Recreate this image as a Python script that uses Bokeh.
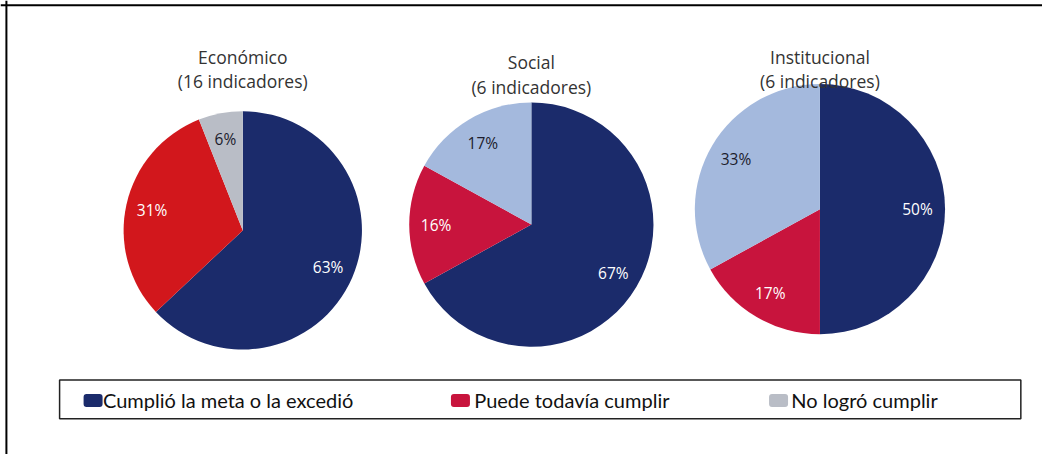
import math
from bokeh.plotting import figure
from bokeh.models import Range1d, Span
from bokeh.core.properties import value
from bokeh.embed import file_html
from bokeh.resources import INLINE

# ---- data ----
panels = ["Económico", "Social", "Institucional"]
indicator_counts = [16, 6, 6]
categories = ["Cumplió la meta o la excedió", "Puede todavía cumplir", "No logró cumplir"]
economico = [63, 31, 6]
social = [67, 16, 17]
institucional = [50, 17, 33]
series = [economico, social, institucional]

# ---- styles ----
NAVY = "#1b2b6b"
RED1 = "#d2171c"
CRIMSON = "#c8143d"
GRAY = "#b9bdc6"
LIGHTBLUE = "#a4b9dd"
pie_colors = [[NAVY, RED1, GRAY], [NAVY, CRIMSON, LIGHTBLUE], [NAVY, CRIMSON, LIGHTBLUE]]
label_colors = ["white", "white", "#1c1c2c"]
legend_colors = [NAVY, CRIMSON, GRAY]
TITLE_FONT = "Open Sans"
LEGEND_FONT = "Lato"

W, H = 1042, 454
SX, SY = W / 1058.0, H / 470.0


def X(px):
    return px * SX


def Y(py):
    return H - py * SY


p = figure(width=W, height=H, x_range=Range1d(0, W), y_range=Range1d(0, H),
           output_backend="svg", toolbar_location=None, min_border=0)
p.axis.visible = False
p.grid.visible = False
p.outline_line_color = None
p.background_fill_color = "white"
p.border_fill_color = "white"

# frame (top and left edges)
p.add_layout(Span(location=Y(5), dimension="width", line_color="black", line_width=2))
p.add_layout(Span(location=X(6), dimension="height", line_color="black", line_width=2))

# pie layout (reference pixel coords)
centers = [(246, 238), (539, 232), (832, 216)]
radii = [121, 124, 127]
title_y = [(58, 83), (64, 90), (59, 83)]

for k, vals in enumerate(series):
    cx, cy = X(centers[k][0]), Y(centers[k][1])
    r = radii[k] * SX
    total = float(sum(vals))
    cum = 0.0
    starts, ends, mids = [], [], []
    for v in vals:
        a0 = math.pi / 2 - 2 * math.pi * cum / total
        cum += v
        a1 = math.pi / 2 - 2 * math.pi * cum / total
        starts.append(a0)
        ends.append(a1)
        mids.append((a0 + a1) / 2)
    p.wedge(x=[cx] * 3, y=[cy] * 3, radius=r, start_angle=starts, end_angle=ends,
            direction="clock", fill_color=pie_colors[k], line_color=None)
    lx = [cx + 0.78 * r * math.cos(m) for m in mids]
    ly = [cy + 0.78 * r * math.sin(m) for m in mids]
    p.text(x=lx, y=ly, text=[f"{v}%" for v in vals], text_color=label_colors,
           text_align="center", text_baseline="middle", text_font_size="15.5px",
           text_font=value(TITLE_FONT))
    p.text(x=[cx, cx], y=[Y(title_y[k][0]), Y(title_y[k][1])],
           text=[panels[k], f"({indicator_counts[k]} indicadores)"],
           text_color="#333333", text_align="center", text_baseline="middle",
           text_font_size="17.5px", text_font=value(TITLE_FONT))

# legend box
p.quad(left=X(60), right=X(1036), top=Y(393), bottom=Y(433),
       fill_color="white", line_color="#222222", line_width=1.5)
sq_x = [94, 467, 790]
txt_x = [104, 481, 803]
leg_y = 414
p.rect(x=[X(v) for v in sq_x], y=[Y(leg_y)] * 3, width=19, height=13,
       fill_color=legend_colors, line_color=None, border_radius=3)
p.text(x=[X(v) for v in txt_x], y=[Y(leg_y)] * 3, text=categories,
       text_color="#111111", text_align="left", text_baseline="middle",
       text_font_size="20px", text_font=value(LEGEND_FONT))

open("out.html", "w").write(file_html(p, INLINE))
